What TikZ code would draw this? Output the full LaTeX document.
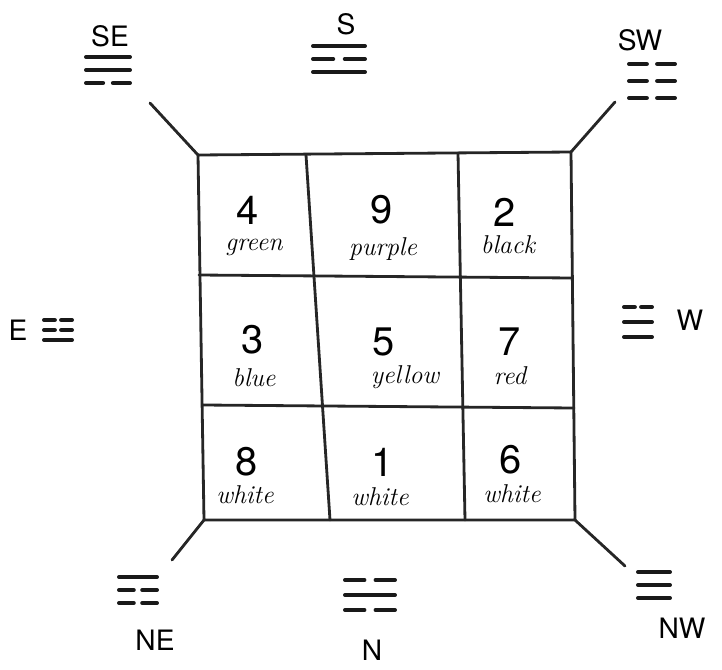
\documentclass[tikz,border=0pt]{standalone}
\usepackage{fontspec}
\setsansfont{TeX Gyre Heros}
\tikzset{
  gridline/.style={line width=2.4pt,line cap=round,black!85},
  yaoline/.style={line width=3.4pt,line cap=round,black!90},
  dirlabel/.style={font=\sffamily\fontsize{24}{26}\selectfont},
  numlabel/.style={font=\sffamily\fontsize{34}{36}\selectfont},
  colorlabel/.style={font=\itshape\fontsize{22}{24}\selectfont}
}
% one line of a trigram: x, y, width, 1 = solid / 0 = broken
\newcommand{\yao}[4]{%
  \ifnum#4=1
    \draw[yaoline] ({#1-#3/2},#2) -- ({#1+#3/2},#2);
  \else
    \draw[yaoline] ({#1-#3/2},#2) -- ({#1-#3/9},#2) ({#1+#3/9},#2) -- ({#1+#3/2},#2);
  \fi}
% trigram: x, top y, width, gap, top, middle, bottom
\newcommand{\gua}[7]{%
  \yao{#1}{#2}{#3}{#5}
  \yao{#1}{#2+#4}{#3}{#6}
  \yao{#1}{#2+2*#4}{#3}{#7}}
\begin{document}
\begin{tikzpicture}[x=0.03cm,y=-0.03cm]
    \useasboundingbox (0,0) rectangle (722,670);
    % grid corners
    \coordinate (tl) at (198,155);
    \coordinate (tr) at (571,152);
    \coordinate (bl) at (204,520);
    \coordinate (br) at (575,520);
    % outer square and inner lines
    \draw[gridline] (tl) -- (tr) -- (br) -- (bl) -- cycle;
    \draw[gridline] (306,155) -- (330,520);
    \draw[gridline] (458,153) -- (465,520);
    \draw[gridline] (199,275) -- (572,278);
    \draw[gridline] (203,405) -- (574,408);
    % cells
    \node[numlabel] (n4) at (248,210) {4};
    \node[colorlabel] (c4) at (254,247) {green};
    \node[numlabel] (n9) at (382,210) {9};
    \node[colorlabel] (c9) at (383,249) {purple};
    \node[numlabel] (n2) at (505,212) {2};
    \node[colorlabel] (c2) at (508,245) {black};
    \node[numlabel] (n3) at (253,340) {3};
    \node[colorlabel] (c3) at (254,378) {blue};
    \node[numlabel] (n5) at (384,342) {5};
    \node[colorlabel] (c5) at (405,377) {yellow};
    \node[numlabel] (n7) at (510,342) {7};
    \node[colorlabel] (c7) at (510,376) {red};
    \node[numlabel] (n8) at (247,462) {8};
    \node[colorlabel] (c8) at (245,495) {white};
    \node[numlabel] (n1) at (383,462) {1};
    \node[colorlabel] (c1) at (380,497) {white};
    \node[numlabel] (n6) at (511,460) {6};
    \node[colorlabel] (c6) at (512,494) {white};
    % corner strokes
    \coordinate (se) at (150,103);
    \coordinate (sw) at (615,102);
    \coordinate (ne) at (172,560);
    \coordinate (nw) at (625,566);
    \draw[gridline] (tl) -- (se);
    \draw[gridline] (tr) -- (sw);
    \draw[gridline] (bl) -- (ne);
    \draw[gridline] (br) -- (nw);
    % directions and trigrams
    \node[dirlabel] (lse) at (110,36) {SE};
    \gua{108}{57}{44}{13}{1}{1}{0}
    \node[dirlabel] (ls) at (346,24) {S};
    \gua{339}{46}{52}{13}{1}{0}{1}
    \node[dirlabel] (lsw) at (640,40) {SW};
    \gua{652}{64}{46}{17}{0}{0}{0}
    \node[dirlabel] (le) at (18,330) {E};
    \gua{58}{320}{28}{10}{0}{0}{1}
    \node[dirlabel] (lw) at (690,320) {W};
    \gua{638}{307}{28}{15}{0}{1}{1}
    \node[dirlabel] (lne) at (155,640) {NE};
    \gua{138}{577}{38}{13}{1}{0}{0}
    \node[dirlabel] (ln) at (372,650) {N};
    \gua{370}{580}{50}{15}{0}{1}{0}
    \node[dirlabel] (lnw) at (682,628) {NW};
    \gua{654}{572}{32}{13}{1}{1}{1}
\end{tikzpicture}
\end{document}
